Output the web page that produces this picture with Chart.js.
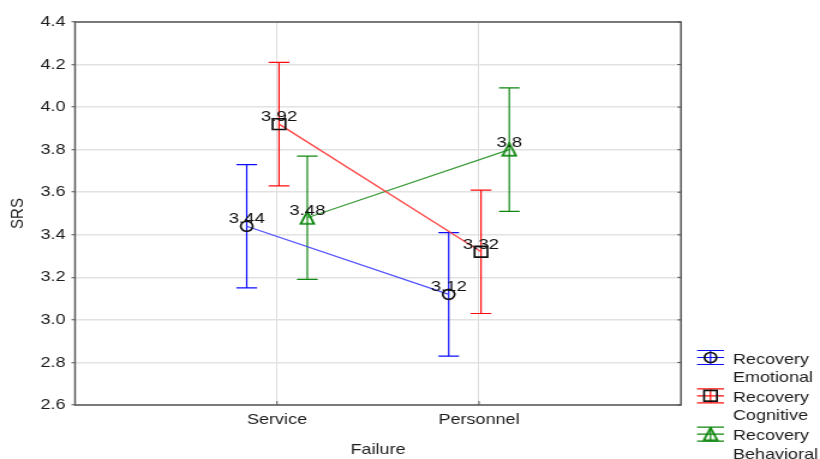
<!DOCTYPE html>
<html>
<head>
<meta charset="utf-8">
<script src="https://cdn.jsdelivr.net/npm/chart.js@4.4.1/dist/chart.umd.min.js"></script>
<style>
  html, body { margin: 0; padding: 0; background: #fff; overflow: hidden; }
  /* the drawing is laid out on a narrower canvas and widened to the full page */
  #wrap { position: absolute; left: 0; top: 0; width: 683px; height: 459px;
          transform-origin: 0 0; transform: scaleX(1.2006); }
</style>
</head>
<body>
<div id="wrap"><canvas id="c" width="683" height="459"></canvas></div>
<script>
// ---- data ----
const categories = ['Service', 'Personnel'];
const seriesNames = [['Recovery', 'Emotional'], ['Recovery', 'Cognitive'], ['Recovery', 'Behavioral']];
const emotional = [3.44, 3.12];
const cognitive = [3.92, 3.32];
const behavioral = [3.48, 3.8];
const emotionalErr = [0.29, 0.29];
const cognitiveErr = [0.29, 0.29];
const behavioralErr = [0.29, 0.29];
const yMin = 2.6, yMax = 4.4, yStep = 0.2;

// ---- styling ----
const FONT = { family: '"Liberation Sans", Arial, sans-serif', size: 15 };
const TEXT = '#1c1c1c';

// hollow triangle marker, centred on its bounding box
function triangleMarker(color) {
  const c = document.createElement('canvas');
  c.width = 14; c.height = 15;
  const g = c.getContext('2d');
  g.strokeStyle = color; g.lineWidth = 1.8; g.lineJoin = 'miter';
  g.beginPath();
  g.moveTo(7, 1.2); g.lineTo(1.4, 13.6); g.lineTo(12.6, 13.6); g.closePath();
  g.stroke();
  return c;
}

const series = [
  { name: seriesNames[0], values: emotional, err: emotionalErr, offset: -0.15,
    barColor: '#0c0cff', lineColor: 'rgba(60,60,255,0.9)', markColor: '#111',
    pointStyle: 'circle', radius: 5 },
  { name: seriesNames[1], values: cognitive, err: cognitiveErr, offset: 0.01,
    barColor: '#ff0c0c', lineColor: 'rgba(255,50,50,0.9)', markColor: '#111',
    pointStyle: 'rect', radius: 7.6 },
  { name: seriesNames[2], values: behavioral, err: behavioralErr, offset: 0.15,
    barColor: '#0f860f', lineColor: 'rgba(35,145,35,0.9)', markColor: '#0a850a',
    pointStyle: triangleMarker('#0a850a'), radius: 7 }
];

const CAP = 8.6;

function drawMarker(ctx, s, x, y) {
  ctx.save();
  if (s.pointStyle === 'circle') {
    ctx.strokeStyle = s.markColor; ctx.lineWidth = 1.7;
    ctx.beginPath(); ctx.arc(x, y, s.radius, 0, Math.PI * 2); ctx.stroke();
  } else if (s.pointStyle === 'rect') {
    const h = s.radius * Math.SQRT1_2;
    ctx.strokeStyle = s.markColor; ctx.lineWidth = 1.7;
    ctx.strokeRect(x - h, y - h, 2 * h, 2 * h);
  } else {
    const im = s.pointStyle;
    ctx.drawImage(im, x - im.width / 2, y - im.height / 2);
  }
  ctx.restore();
}

const decorations = {
  id: 'decorations',
  beforeDatasetsDraw(chart) {
    const { ctx, scales: { x, y } } = chart;
    ctx.save();
    ctx.lineWidth = 1.2;
    series.forEach(s => {
      s.values.forEach((v, i) => {
        const px = x.getPixelForValue(i + 1 + s.offset);
        const top = y.getPixelForValue(v + s.err[i]);
        const bot = y.getPixelForValue(v - s.err[i]);
        ctx.strokeStyle = s.barColor;
        ctx.beginPath();
        ctx.moveTo(px, top); ctx.lineTo(px, bot);
        ctx.moveTo(px - CAP, top); ctx.lineTo(px + CAP, top);
        ctx.moveTo(px - CAP, bot); ctx.lineTo(px + CAP, bot);
        ctx.stroke();
      });
    });
    ctx.restore();
  },
  afterDatasetsDraw(chart) {
    const { ctx, scales: { x, y } } = chart;
    ctx.save();
    ctx.font = `15.5px ${FONT.family}`;
    ctx.fillStyle = '#111';
    ctx.textAlign = 'center';
    ctx.textBaseline = 'alphabetic';
    series.forEach(s => {
      s.values.forEach((v, i) => {
        const px = x.getPixelForValue(i + 1 + s.offset);
        const py = y.getPixelForValue(v);
        ctx.fillText(String(v), px, py - 3);
      });
    });
    ctx.restore();
  },
  afterDraw(chart) {
    const { ctx, chartArea: a, scales: { x, y } } = chart;
    ctx.save();
    // frame
    ctx.strokeStyle = '#555';
    ctx.lineWidth = 1.5;
    ctx.strokeRect(a.left, a.top, a.right - a.left, a.bottom - a.top);
    // inner ticks on the right and bottom edges
    ctx.lineWidth = 1;
    y.ticks.forEach(t => {
      const py = y.getPixelForValue(t.value);
      ctx.beginPath(); ctx.moveTo(a.right - 3, py); ctx.lineTo(a.right, py); ctx.stroke();
    });
    x.ticks.forEach(t => {
      const px = x.getPixelForValue(t.value);
      ctx.beginPath(); ctx.moveTo(px, a.bottom - 4); ctx.lineTo(px, a.bottom); ctx.stroke();
    });
    // legend
    const x0 = 580.6, x1 = 603, cx = (x0 + x1) / 2, tx = 610.5;
    ctx.font = `${FONT.size}px ${FONT.family}`;
    ctx.textAlign = 'left';
    ctx.textBaseline = 'alphabetic';
    series.forEach((s, i) => {
      const base = 363.5 + i * 38.3;
      const cy = base - 6;
      ctx.strokeStyle = s.barColor;
      ctx.lineWidth = 1.2;
      ctx.beginPath();
      [cy - 7, cy, cy + 7].forEach(ly => { ctx.moveTo(x0, ly); ctx.lineTo(x1, ly); });
      ctx.moveTo(cx, cy - 7); ctx.lineTo(cx, cy + 7);
      ctx.stroke();
      drawMarker(ctx, s, cx, cy);
      ctx.fillStyle = TEXT;
      ctx.fillText(s.name[0], tx, base);
      ctx.fillText(s.name[1], tx, base + 18.6);
    });
    ctx.restore();
  }
};

new Chart(document.getElementById('c'), {
  type: 'scatter',
  data: {
    datasets: series.map(s => ({
      label: s.name.join(' '),
      data: s.values.map((v, i) => ({ x: i + 1 + s.offset, y: v })),
      showLine: true,
      borderColor: s.lineColor,
      borderWidth: 1.3,
      pointStyle: s.pointStyle,
      pointRadius: s.radius,
      pointHoverRadius: s.radius,
      pointBorderColor: s.markColor,
      pointBackgroundColor: 'rgba(0,0,0,0)',
      pointBorderWidth: 1.7
    }))
  },
  options: {
    responsive: false,
    animation: false,
    devicePixelRatio: 1,
    events: [],
    layout: { padding: { left: 0, top: 22, right: 683 - 567.2, bottom: 0 } },
    plugins: { legend: { display: false }, tooltip: { enabled: false } },
    scales: {
      x: {
        type: 'linear', min: 0, max: 3,
        afterBuildTicks: s => { s.ticks = categories.map((c, i) => ({ value: i + 1 })); },
        afterFit: s => { s.height = 54; },
        ticks: { callback: v => categories[Math.round(v) - 1], font: FONT, color: TEXT,
                 padding: 6, autoSkip: false, maxRotation: 0 },
        grid: { color: '#dcdcdc', lineWidth: 1, drawTicks: false },
        border: { display: false },
        title: { display: true, text: 'Failure', font: FONT, color: TEXT,
                 padding: { top: 0, bottom: 0.5 } }
      },
      y: {
        min: yMin, max: yMax,
        afterFit: s => { s.width = 62.5; },
        ticks: { stepSize: yStep, callback: v => Number(v).toFixed(1), font: FONT,
                 color: TEXT, padding: 5 },
        grid: { color: '#e2e2e2', lineWidth: 1.5, tickLength: 3, tickColor: '#555', tickWidth: 1 },
        border: { display: false },
        title: { display: true, text: 'SRS', font: FONT, color: TEXT, padding: { top: 5.6, bottom: 0 } }
      }
    }
  },
  plugins: [decorations]
});
</script>
</body>
</html>
